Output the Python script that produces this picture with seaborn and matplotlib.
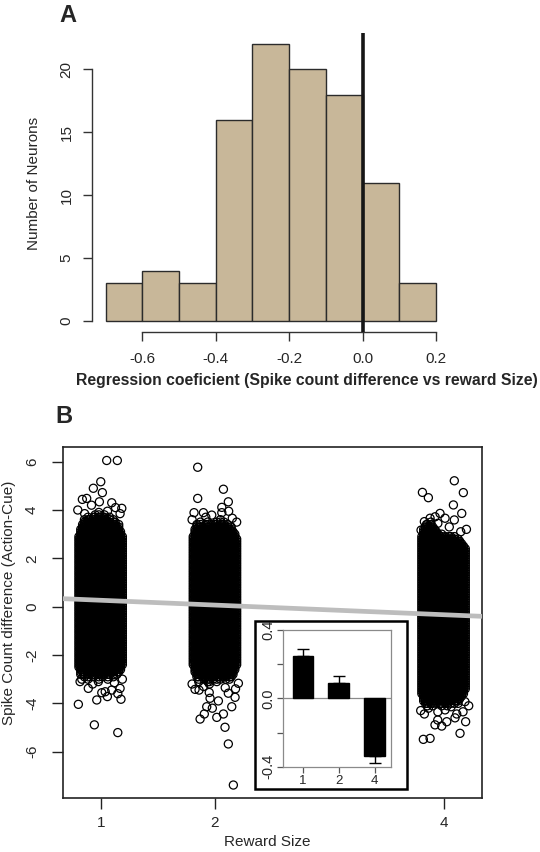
import numpy as np
import pandas as pd
import matplotlib
matplotlib.use("Agg")
import matplotlib.pyplot as plt
import seaborn as sns
from matplotlib.patches import Rectangle

# ---------------- Panel A data ----------------
bin_edges = [-0.7, -0.6, -0.5, -0.4, -0.3, -0.2, -0.1, 0.0, 0.1, 0.2]
bin_counts = [3, 4, 3, 16, 22, 20, 18, 11, 3]
a_xticks = [-0.6, -0.4, -0.2, 0.0, 0.2]
a_xticklabels = ["-0.6", "-0.4", "-0.2", "0.0", "0.2"]
a_yticks = [0, 5, 10, 15, 20]

# ---------------- Panel B data ----------------
reward_sizes = [1, 2, 4]
b_yticks = [-6, -4, -2, 0, 2, 4, 6]

# dense band of trials: jitter columns and value levels (read as a band)
jitter_cols = [-0.19, -0.174, -0.158, -0.142, -0.127, -0.111, -0.095, -0.079, -0.063,
               -0.048, -0.032, -0.016, 0.0, 0.016, 0.032, 0.048, 0.063, 0.079, 0.095,
               0.111, 0.127, 0.142, 0.158, 0.174, 0.19]
band_levels = [-4.2, -4.1, -4.0, -3.9, -3.8, -3.7, -3.6, -3.5, -3.4, -3.3, -3.2, -3.1, -3.0,
               -2.9, -2.8, -2.7, -2.6, -2.5, -2.4, -2.3, -2.2, -2.1, -2.0, -1.9, -1.8, -1.7,
               -1.6, -1.5, -1.4, -1.3, -1.2, -1.1, -1.0, -0.9, -0.8, -0.7, -0.6, -0.5, -0.4,
               -0.3, -0.2, -0.1, 0.0, 0.1, 0.2, 0.3, 0.4, 0.5, 0.6, 0.7, 0.8, 0.9, 1.0, 1.1,
               1.2, 1.3, 1.4, 1.5, 1.6, 1.7, 1.8, 1.9, 2.0, 2.1, 2.2, 2.3, 2.4, 2.5, 2.6, 2.7,
               2.8, 2.9, 3.0, 3.1, 3.2, 3.3, 3.4, 3.5, 3.6, 3.7, 3.8, 3.9, 4.0]
band_top_r1 = [2.9, 3.2, 3.4, 3.6, 3.5, 3.7, 3.6, 3.4, 3.7, 3.8, 3.6, 3.9, 3.7, 3.5, 3.8,
               3.6, 3.5, 3.7, 3.4, 3.6, 3.5, 3.3, 3.4, 3.1, 2.9]
band_bot_r1 = [-2.5, -2.8, -2.7, -2.9, -2.6, -3.0, -2.8, -2.7, -2.9, -2.6, -2.8, -3.0, -2.7,
               -2.9, -2.8, -2.6, -3.0, -2.8, -2.7, -2.9, -2.6, -2.8, -2.7, -2.6, -2.4]
band_top_r2 = [2.9, 3.2, 3.4, 3.3, 3.5, 3.3, 3.2, 3.4, 3.5, 3.3, 3.4, 3.2, 3.4, 3.5, 3.3,
               3.6, 3.4, 3.5, 3.3, 3.4, 3.2, 3.3, 3.1, 3.0, 2.8]
band_bot_r2 = [-2.4, -2.7, -2.9, -3.1, -2.8, -2.9, -3.0, -2.8, -3.1, -3.2, -2.9, -3.0, -2.8,
               -3.1, -2.9, -3.0, -2.8, -2.9, -3.0, -2.8, -3.0, -2.9, -2.8, -2.6, -2.4]
band_top_r4 = [2.9, 3.2, 3.3, 3.4, 3.3, 3.5, 3.3, 3.2, 3.1, 3.0, 2.9, 3.0, 2.8, 2.9, 2.8,
               2.9, 2.9, 2.8, 2.9, 2.7, 2.8, 2.7, 2.6, 2.5, 2.4]
band_bot_r4 = [-3.6, -3.9, -4.0, -4.1, -3.9, -4.0, -4.1, -3.9, -4.0, -3.8, -4.0, -4.1, -3.9,
               -4.0, -4.1, -3.9, -4.0, -3.8, -4.0, -3.9, -4.0, -3.8, -3.7, -3.6, -3.4]

# individually visible trials: reward size, jitter offset, value
outl_reward = [1] * 34 + [2] * 36 + [4] * 37
outl_offset = [
    # reward 1
    0.053, 0.146, 0.001, -0.064, 0.015, 0.097, -0.16, -0.122, 0.185, -0.011, -0.20, -0.08,
    0.13, 0.06, -0.14, 0.17,
    -0.195, -0.055, 0.15, -0.034, -0.108, 0.01, 0.059, 0.178, 0.097, -0.165, 0.17, 0.04,
    -0.07, 0.12, -0.18, 0.19, -0.02, 0.15,
    # reward 2
    -0.151, -0.151, 0.074, 0.117, -0.183, -0.101, -0.028, 0.06, 0.152, 0.06, -0.08, 0.12,
    -0.20, 0.19,
    0.161, 0.117, 0.088, 0.147, 0.016, -0.13, -0.093, -0.023, 0.074, -0.072, -0.043,
    -0.174, 0.205, 0.176, 0.117, -0.139, -0.05, 0.03, -0.10, 0.09, -0.20, 0.18,
    # reward 4
    0.094, -0.185, -0.133, 0.173, 0.086, 0.094, 0.159, -0.197, -0.168, -0.118, -0.031,
    0.013, -0.074, -0.15, -0.05, 0.05, 0.20, 0.15,
    -0.168, -0.051, -0.016, -0.075, -0.177, -0.118, 0.144, 0.115, -0.133, 0.013, 0.028,
    0.193, 0.187, 0.066, -0.20, 0.10, 0.17, -0.05, 0.22,
]
outl_value = [
    # reward 1
    6.05, 6.05, 5.17, 4.90, 4.72, 4.30, 4.44, 4.48, 4.07, 4.34, 4.00, 4.20,
    4.10, 3.95, 3.85, 3.85,
    -4.04, -4.89, -5.21, -3.86, -3.38, -3.56, -3.72, -3.83, -3.45, -3.00, -3.38, -3.52,
    -3.20, -3.15, -3.10, -3.00, -3.10, -3.60,
    # reward 2
    5.77, 4.48, 4.86, 4.34, 3.89, 3.89, 3.79, 4.11, 3.66, 3.89, 3.70, 3.95,
    3.60, 3.50,
    -7.38, -5.68, -4.99, -4.14, -4.58, -4.65, -4.44, -4.20, -4.44, -4.14, -3.79,
    -3.42, -3.17, -3.75, -3.58, -3.45, -3.55, -3.90, -3.30, -3.35, -3.20, -3.40,
    # reward 4
    5.21, 4.73, 4.51, 4.72, 4.21, 3.59, 3.86, 3.17, 3.52, 3.66, 3.86,
    3.66, 3.72, 3.40, 3.45, 3.30, 3.20, 3.10,
    -4.44, -4.69, -4.94, -4.89, -5.49, -5.45, -5.24, -4.44, -4.20, -4.27, -4.76,
    -4.76, -3.93, -4.14, -4.30, -4.60, -4.35, -4.35, -4.10,
]

# inset: mean per reward size and s.e.m.
inset_labels = ["1", "2", "4"]
inset_means = [0.25, 0.09, -0.34]
inset_sem = [0.04, 0.041, 0.039]
inset_yticks = [-0.4, -0.2, 0.0, 0.2, 0.4]
inset_yticklabels = ["-0.4", "", "0.0", "", "0.4"]

# ---------------- build tables ----------------
band_tops = {1: band_top_r1, 2: band_top_r2, 4: band_top_r4}
band_bots = {1: band_bot_r1, 2: band_bot_r2, 4: band_bot_r4}
rows = []
for r in reward_sizes:
    for j, off in enumerate(jitter_cols):
        for lv in band_levels:
            if band_bots[r][j] - 1e-9 <= lv <= band_tops[r][j] + 1e-9:
                rows.append((r + off, lv))
for r, off, v in zip(outl_reward, outl_offset, outl_value):
    rows.append((r + off, v))
dfB = pd.DataFrame(rows, columns=["reward", "diff"])

centers = [(a + b) / 2 for a, b in zip(bin_edges[:-1], bin_edges[1:])]

# ---------------- style ----------------
sns.set_style("ticks")
plt.rcParams["font.family"] = ["Liberation Sans", "DejaVu Sans"]
plt.rcParams["axes.linewidth"] = 1.0

fig = plt.figure(figsize=(5.4, 8.52), dpi=100)
fig.patch.set_facecolor("white")

# ---------------- Panel A ----------------
axA = fig.add_axes([0.1709, 0.6102, 0.661, 0.3508])
sns.histplot(x=centers, weights=bin_counts, bins=bin_edges, color="#c8b799",
             edgecolor="#2b2b2b", linewidth=1.0, alpha=1.0, ax=axA)
axA.axvline(0, color="#161616", lw=2.6, zorder=5)
axA.set_xlim(-0.736, 0.236)
axA.set_ylim(-0.88, 22.88)
for s in ["top", "right"]:
    axA.spines[s].set_visible(False)
axA.spines["left"].set_bounds(0, 20)
axA.spines["bottom"].set_bounds(-0.6, 0.2)
for s in ["left", "bottom"]:
    axA.spines[s].set_color("#333333")
axA.set_xticks(a_xticks, a_xticklabels)
axA.set_yticks(a_yticks, [str(v) for v in a_yticks], rotation=90, va="center")
axA.tick_params(axis="both", length=6.5, width=1.0, color="#333333", labelsize=11)
axA.tick_params(axis="x", pad=8)
axA.tick_params(axis="y", pad=7)
axA.set_xlabel("")
axA.set_ylabel("")

fig.text(307 / 540, 1 - 380 / 852,
         "Regression coeficient (Spike count difference vs reward Size)",
         ha="center", va="center", fontsize=11.3, fontweight="bold")
fig.text(34.4 / 540, 1 - 183.3 / 852, "Number of Neurons", rotation=90,
         ha="center", va="center", fontsize=11)
fig.text(68 / 540, 1 - 15 / 852, "A", ha="center", va="center",
         fontsize=17, fontweight="bold")

# ---------------- Panel B ----------------
axB = fig.add_axes([0.1161, 0.063, 0.7756, 0.4127])
sns.scatterplot(data=dfB, x="reward", y="diff", ax=axB, s=34, marker="o",
                facecolor="none", edgecolor="black", linewidth=0.9, legend=False)
for coll in axB.collections:
    coll.set_facecolor("none")
    coll.set_edgecolor("black")
slope, intercept = np.polyfit(reward_sizes, inset_means, 1)
axB.axline((0, intercept), slope=slope, color="#bdbdbd", lw=3.4, zorder=4)
axB.set_xlim(0.668, 4.332)
axB.set_ylim(-7.93, 6.62)
axB.set_xticks(reward_sizes, [str(v) for v in reward_sizes])
axB.set_yticks(b_yticks, [str(v) for v in b_yticks], rotation=90, va="center")
for s in axB.spines.values():
    s.set_color("#222222")
    s.set_linewidth(1.2)
axB.tick_params(axis="both", length=8, width=1.0, color="#222222", labelsize=11)
axB.tick_params(axis="x", pad=5)
axB.tick_params(axis="y", pad=9)
axB.set_xlabel("")
axB.set_ylabel("")

fig.text(267 / 540, 1 - 841.7 / 852, "Reward Size", ha="center", va="center", fontsize=11)
fig.text(9 / 540, 1 - 602.5 / 852, "Spike Count difference (Action-Cue)", rotation=90,
         ha="center", va="center", fontsize=11)
fig.text(63.7 / 540, 1 - 416.7 / 852, "B", ha="center", va="center",
         fontsize=17, fontweight="bold")

# ---------------- Inset ----------------
frame = Rectangle((0.4731, 0.0736), 0.28, 0.197, transform=fig.transFigure,
                  facecolor="white", edgecolor="black", lw=1.8, zorder=1)
fig.add_artist(frame)

axI = fig.add_axes([0.5246, 0.1001, 0.1989, 0.1604])
axI.set_zorder(3)
sns.barplot(x=inset_labels, y=inset_means, color="black", saturation=1, width=0.58,
            errorbar=None, ax=axI, edgecolor="black")
lower = [s if m < 0 else 0 for m, s in zip(inset_means, inset_sem)]
upper = [s if m > 0 else 0 for m, s in zip(inset_means, inset_sem)]
axI.errorbar(range(len(inset_means)), inset_means, yerr=[lower, upper], fmt="none",
             ecolor="black", elinewidth=1.0, capsize=4.5, capthick=1.0, zorder=4)
axI.axhline(0, color="#8a8a8a", lw=0.9, zorder=0)
axI.set_xlim(-0.55, 2.45)
axI.set_ylim(-0.4, 0.4)
axI.set_yticks(inset_yticks, inset_yticklabels, rotation=90, va="center")
for s in axI.spines.values():
    s.set_color("#8a8a8a")
    s.set_linewidth(0.9)
axI.tick_params(axis="both", length=4, width=0.9, color="#555555", labelsize=9.5)
axI.tick_params(axis="y", labelsize=10.5, pad=2)
axI.tick_params(axis="x", pad=2)
axI.set_xlabel("")
axI.set_ylabel("")

fig.savefig("out.png", dpi=100, facecolor="white")
